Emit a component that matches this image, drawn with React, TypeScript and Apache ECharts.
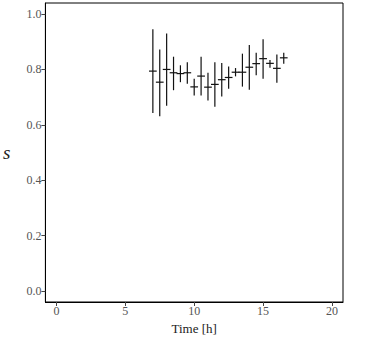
import React, { useEffect, useRef } from "react";
import * as echarts from "echarts";

const times = [7.0, 7.5, 8.0, 8.5, 9.0, 9.5, 10.0, 10.5, 11.0, 11.5, 12.0, 12.5, 13.0, 13.5, 14.0, 14.5, 15.0, 15.5, 16.0, 16.5];
const sValues = [0.794, 0.754, 0.8, 0.788, 0.785, 0.788, 0.737, 0.776, 0.736, 0.746, 0.763, 0.771, 0.79, 0.79, 0.808, 0.821, 0.839, 0.822, 0.804, 0.842];
const sLow = [0.643, 0.631, 0.669, 0.725, 0.754, 0.748, 0.706, 0.706, 0.688, 0.665, 0.702, 0.73, 0.775, 0.738, 0.727, 0.779, 0.766, 0.806, 0.752, 0.821];
const sHigh = [0.945, 0.872, 0.93, 0.846, 0.815, 0.826, 0.766, 0.846, 0.788, 0.826, 0.823, 0.811, 0.805, 0.857, 0.888, 0.86, 0.909, 0.834, 0.854, 0.86];
const timeHalfWidth = 0.28;

const xTicks = [0, 5, 10, 15, 20];
const yTicks = [0, 0.2, 0.4, 0.6, 0.8, 1.0];

const FONT = "'Liberation Serif', 'DejaVu Serif', serif";

export default function App() {
  const ref = useRef<HTMLDivElement>(null);
  useEffect(() => {
    const chart = echarts.init(ref.current!, null, { renderer: "svg" });
    const data = times.map((t, i) => [t, sValues[i], sLow[i], sHigh[i]]);
    chart.setOption({
      animation: false,
      grid: {
        left: 45,
        right: 31,
        top: 3,
        bottom: 38,
        show: true,
        borderColor: "#000",
        borderWidth: 1,
        backgroundColor: "transparent",
      },
      xAxis: {
        type: "value",
        min: -0.8,
        max: 20.8,
        name: "Time [h]",
        nameLocation: "middle",
        nameGap: 16,
        nameTextStyle: { fontFamily: FONT, fontSize: 13, color: "#222" },
        axisLine: { show: true, onZero: false, lineStyle: { color: "#000" } },
        axisTick: { show: true, customValues: xTicks, length: 4, inside: false, lineStyle: { color: "#444" } },
        axisLabel: {
          customValues: xTicks,
          fontFamily: FONT,
          fontSize: 12,
          color: "#555",
          margin: 3,
          formatter: (v: number) => String(v),
        },
        splitLine: { show: false },
      },
      yAxis: {
        type: "value",
        min: -0.04,
        max: 1.04,
        name: "s",
        nameLocation: "middle",
        nameGap: 35,
        nameRotate: 0,
        nameTextStyle: { fontFamily: FONT, fontSize: 19, fontStyle: "italic", color: "#222" },
        axisLine: { show: true, onZero: false, lineStyle: { color: "#000" } },
        axisTick: { show: true, customValues: yTicks, length: 4, lineStyle: { color: "#444" } },
        axisLabel: {
          customValues: yTicks,
          fontFamily: FONT,
          fontSize: 12,
          color: "#555",
          margin: 4,
          formatter: (v: number) => v.toFixed(1),
        },
        splitLine: { show: false },
      },
      series: [
        {
          type: "custom",
          data,
          renderItem: (params: any, api: any) => {
            const t = api.value(0);
            const s = api.value(1);
            const lo = api.value(2);
            const hi = api.value(3);
            const pLo = api.coord([t, lo]);
            const pHi = api.coord([t, hi]);
            const pL = api.coord([t - timeHalfWidth, s]);
            const pR = api.coord([t + timeHalfWidth, s]);
            const style = { stroke: "#111", lineWidth: 1.2 };
            return {
              type: "group",
              children: [
                { type: "line", shape: { x1: pLo[0], y1: pLo[1], x2: pHi[0], y2: pHi[1] }, style },
                { type: "line", shape: { x1: pL[0], y1: pL[1], x2: pR[0], y2: pR[1] }, style },
              ],
            };
          },
        },
      ],
    });
    return () => chart.dispose();
  }, []);
  return (
    <div
      ref={ref}
      style={{ position: "absolute", left: 0, top: 0, width: 374, height: 340, background: "#fff" }}
    />
  );
}
